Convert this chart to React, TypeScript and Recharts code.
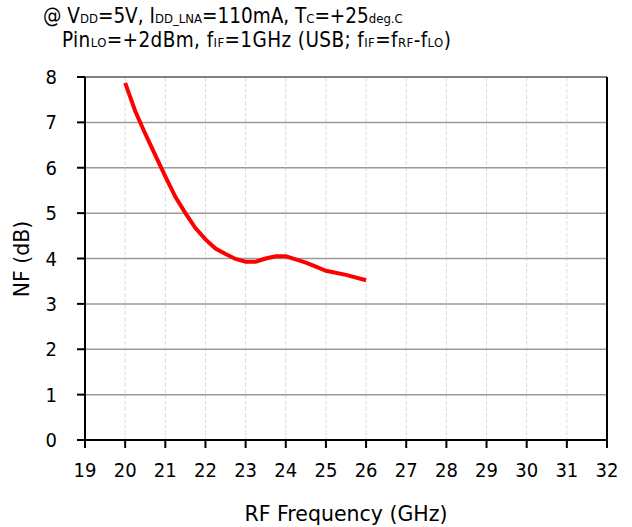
import { LineChart, Line, CartesianGrid, XAxis, YAxis, ReferenceLine } from 'recharts'

const FREQ_GHZ = [20, 20.25, 20.5, 20.75, 21, 21.25, 21.5, 21.75, 22, 22.25, 22.5, 22.75, 23, 23.25, 23.5, 23.75, 24, 24.25, 24.5, 24.75, 25, 25.5, 26]
const NF_DB = [7.87, 7.25, 6.75, 6.28, 5.81, 5.36, 5.0, 4.67, 4.42, 4.22, 4.1, 3.99, 3.93, 3.93, 4.0, 4.05, 4.05, 3.98, 3.91, 3.82, 3.73, 3.64, 3.52]
const X_TICKS = [19, 20, 21, 22, 23, 24, 25, 26, 27, 28, 29, 30, 31, 32]
const Y_TICKS = [0, 1, 2, 3, 4, 5, 6, 7, 8]

const data = FREQ_GHZ.map((f, i) => ({ f, nf: NF_DB[i] }))

const FONT = '"DejaVu Sans Condensed", "DejaVu Sans", sans-serif'
const TITLE_FONT = '"DejaVu Sans", sans-serif'
const sub = { fontSize: 13 }

export default function App() {
  return (
    <div style={{ position: 'absolute', left: 0, top: 0, width: 632, height: 527, background: '#fff', fontFamily: FONT }}>
      <div style={{ position: 'absolute', left: 43, top: 4, fontSize: 20.5, color: '#000', whiteSpace: 'nowrap', lineHeight: '24px' }}>
        @ V<span style={sub}>DD</span>=5V, I<span style={sub}>DD_LNA</span>=110mA, T<span style={sub}>C</span>=+25<span style={sub}>deg.C</span>
      </div>
      <div style={{ position: 'absolute', left: 62, top: 28, fontSize: 20.5, color: '#000', whiteSpace: 'nowrap', lineHeight: '24px', letterSpacing: 0.4 }}>
        Pin<span style={sub}>LO</span>=+2dBm, f<span style={sub}>IF</span>=1GHz (USB; f<span style={sub}>IF</span>=f<span style={sub}>RF</span>-f<span style={sub}>LO</span>)
      </div>
      <div style={{ position: 'absolute', left: 0, top: 0 }}>
        <LineChart width={632} height={527} data={data} margin={{ top: 77, right: 25, left: 0, bottom: 0 }} style={{ fontFamily: FONT }}>
          <CartesianGrid horizontal={false} stroke="#dcdcdc" strokeDasharray="4 2" />
          <CartesianGrid vertical={false} stroke="#9a9a9a" strokeWidth={1.5} />
          <XAxis
            dataKey="f"
            type="number"
            domain={[19, 32]}
            ticks={X_TICKS}
            interval={0}
            height={87}
            stroke="#000"
            strokeWidth={2}
            tickSize={8}
            tickMargin={15}
            tick={{ fill: '#000', fontSize: 20 }}
            label={{
              content: () => (
                <text x={346} y={521} textAnchor="middle" fontSize={20.5} fill="#000" fontFamily={TITLE_FONT}>
                  RF Frequency (GHz)
                </text>
              ),
            }}
          />
          <YAxis
            type="number"
            domain={[0, 8]}
            ticks={Y_TICKS}
            interval={0}
            width={85}
            stroke="#000"
            strokeWidth={2}
            tickSize={8}
            tickMargin={20}
            tick={{ fill: '#000', fontSize: 20 }}
            label={{
              content: () => (
                <text x={29} y={259} textAnchor="middle" fontSize={20.5} fill="#000" fontFamily={TITLE_FONT} transform="rotate(-90 29 259)">
                  NF (dB)
                </text>
              ),
            }}
          />
          <ReferenceLine y={8} stroke="#808080" strokeWidth={2} />
          <ReferenceLine x={32} stroke="#000" strokeWidth={2} />
          <Line type="linear" dataKey="nf" stroke="#ff0000" strokeWidth={4} dot={false} isAnimationActive={false} />
        </LineChart>
      </div>
    </div>
  )
}
